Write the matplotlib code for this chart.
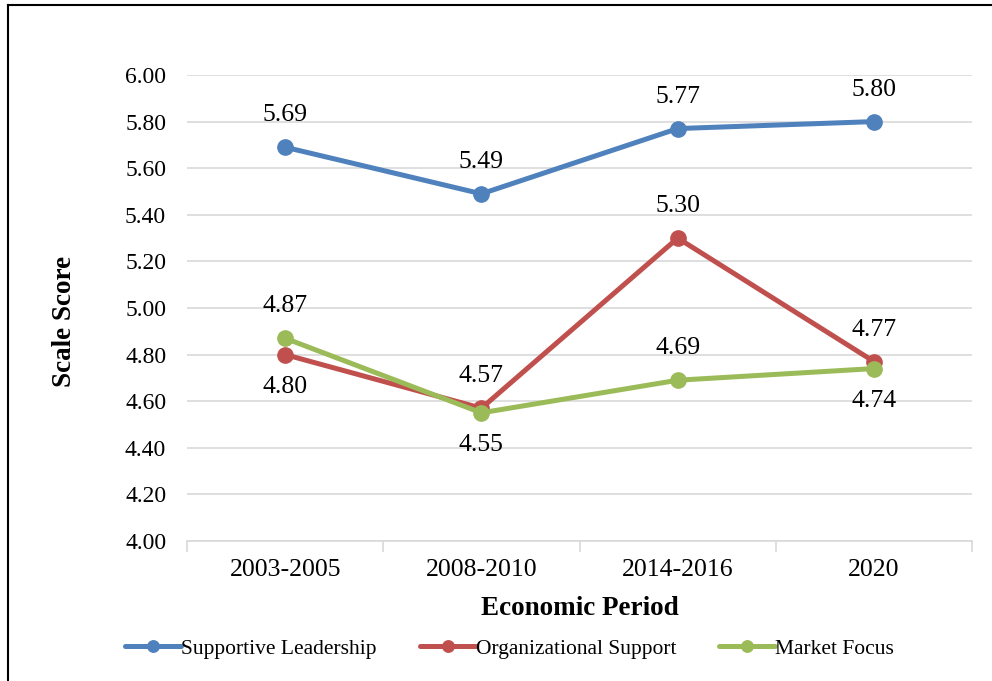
import matplotlib.pyplot as plt
from matplotlib.lines import Line2D

plt.rcParams['font.family'] = ['Liberation Serif', 'DejaVu Serif']

# Data
periods = ['2003-2005', '2008-2010', '2014-2016', '2020']
supportive = [5.69, 5.49, 5.77, 5.80]
org_support = [4.80, 4.57, 5.30, 4.77]
market = [4.87, 4.55, 4.69, 4.74]

# label placement: +1 above, -1 below
sup_pos = [1, 1, 1, 1]
org_pos = [-1, 1, 1, 1]
mkt_pos = [1, -1, 1, -1]

series = [
    ('Supportive Leadership', supportive, '#4F81BD', sup_pos),
    ('Organizational Support', org_support, '#C0504D', org_pos),
    ('Market Focus', market, '#9BBB59', mkt_pos),
]

fig = plt.figure(figsize=(9.92, 6.81), dpi=100)
ax = fig.add_axes([0.1885, 0.2056, 0.7915, 0.6843])

x = list(range(len(periods)))
for name, vals, color, pos in series:
    ax.plot(x, vals, color=color, lw=3.6, marker='o', ms=11, label=name,
            solid_capstyle='round')
    for xi, v, p in zip(x, vals, pos):
        ax.annotate(f'{v:.2f}', (xi, v), xytext=(0, 23 * p), textcoords='offset points',
                    ha='center', va='center', fontsize=18.5)

ax.set_ylim(4.0, 6.0)
ax.set_yticks([4.0 + 0.2 * i for i in range(11)])
ax.set_yticklabels([f'{4.0 + 0.2 * i:.2f}' for i in range(11)], fontsize=17)
ax.set_xlim(-0.5, 3.5)
ax.set_xticks(x)
ax.set_xticklabels(periods, fontsize=18.5)
ax.set_xticks([-0.5, 0.5, 1.5, 2.5, 3.5], minor=True)
ax.tick_params(axis='x', which='major', length=0, pad=13)
ax.tick_params(axis='x', which='minor', length=8, color='#d9d9d9', width=1.2)
ax.tick_params(axis='y', length=0, pad=15)

ax.grid(axis='y', color='#d9d9d9', lw=1.2)
ax.set_axisbelow(True)
for s in ['top', 'right', 'left']:
    ax.spines[s].set_visible(False)
ax.spines['bottom'].set_color('#d9d9d9')
ax.spines['bottom'].set_linewidth(1.2)

ax.set_xlabel('Economic Period', fontsize=19.5, fontweight='bold', labelpad=11)
ax.set_ylabel('Scale Score', fontsize=19.5, fontweight='bold')
ax.yaxis.set_label_coords(-0.140, 0.472)

fig.legend(loc='center', bbox_to_anchor=(0.514, 0.047), ncol=3, frameon=False,
           fontsize=15.5, handlelength=2.6, handletextpad=0.0, columnspacing=2.0,
           markerscale=0.75)

# frame around the figure (top and left edges visible)
fig.add_artist(Line2D([0.008, 1.0], [0.993, 0.993], color='black', lw=1.5,
                      transform=fig.transFigure))
fig.add_artist(Line2D([0.008, 0.008], [0.0, 0.993], color='black', lw=1.5,
                      transform=fig.transFigure))

fig.savefig('out.png', dpi=100)
